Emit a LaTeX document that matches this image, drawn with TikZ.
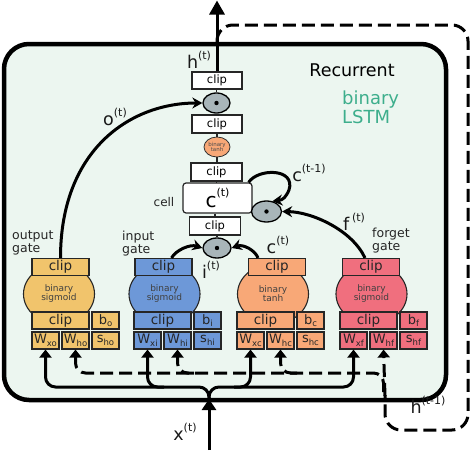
\documentclass[tikz,border=0pt]{standalone}
\usepackage{fontspec}
\setmainfont{DejaVu Sans}
\usetikzlibrary{arrows.meta,shapes.geometric}
\definecolor{bg}{HTML}{ECF6F0}
\definecolor{gold}{HTML}{F1C46C}
\definecolor{blu}{HTML}{6D98D8}
\definecolor{ora}{HTML}{F8A877}
\definecolor{pnk}{HTML}{F06F7E}
\definecolor{tealx}{HTML}{3DAE8C}
\definecolor{dotgray}{HTML}{A8B5B9}
\newcommand\fs[1]{\fontsize{#1}{#1}\selectfont}
\newcommand\supr[1]{\raisebox{0.55em}{\fs{11}#1}}
\newcommand\subr[1]{\raisebox{-0.2em}{\fs{8.5}#1}}
\newcommand\gate[7]{%
 \node[blob, fill=#5] (#1e) at (#2+#4,294) {binary\\#6};
 \node[gbox, fill=#5] (#1t) at (#2+#3,267) {clip};
 \node[gbox, fill=#5] (#1c) at (#2+28.5,320.5) {clip};
 \node[sbox, fill=#5] (#1b) at (#2+73.5,320.5) {b\subr{#7}};
 \node[sbox, fill=#5] (#1wx) at (#2+13.5,340.5) {W\subr{x#7}};
 \node[sbox, fill=#5] (#1wh) at (#2+43.5,340.5) {W\subr{h#7}};
 \node[sbox, fill=#5] (#1s) at (#2+73.5,340.5) {s\subr{h#7}};
}
\tikzset{
 gbox/.style={draw=black!85, line width=1.1pt, minimum width=57pt, minimum height=17pt, inner sep=0pt, font=\fs{13.5}, text=black!85},
 sbox/.style={gbox, minimum width=27pt, font=\fs{13}},
 blob/.style={ellipse, draw=black!85, line width=1.1pt, minimum width=71pt, minimum height=60pt, inner sep=0pt, align=center, font=\fs{9}, text=black!75},
 cbox/.style={draw=black!85, line width=1.2pt, fill=white, minimum width=50pt, minimum height=17pt, inner sep=0pt, font=\fs{11.5}},
 dotc/.style={ellipse, draw=black, line width=1.3pt, fill=dotgray, minimum width=27pt, minimum height=20pt, inner sep=0pt},
 link/.style={line width=1.2pt, draw=black!85},
 flow/.style={line width=3pt, -{Stealth[width=11pt,length=10pt]}},
 inarr/.style={line width=3pt, -{Triangle[width=12pt,length=8pt]}},
 dashln/.style={line width=3pt, dash pattern=on 13pt off 6pt},
 lbl/.style={font=\fs{17.5}, text=black!90, inner sep=0pt},
 glbl/.style={font=\fs{12.5}, align=left, inner sep=0pt, anchor=north west, text=black!85},
}
\begin{document}
\begin{tikzpicture}[x=1pt,y=-1pt]
\useasboundingbox (0,0) rectangle (474,450);
% frame
\node[draw=black, line width=4.5pt, fill=bg, rounded corners=25pt, minimum width=442pt, minimum height=356pt] (frame) at (225,222) {};
% dashed recurrence
\coordinate (hfork) at (217,42);
\draw[dashln, rounded corners=16pt] (hfork) |- (468,25) -- (468,430) -| (385,395);
% gates
\gate{o}{32}{28.5}{27}{gold}{sigmoid}{o}
\gate{i}{134}{29.5}{30.5}{blu}{sigmoid}{i}
\gate{c}{237}{40}{36}{ora}{tanh}{c}
\gate{f}{340}{31}{31.5}{pnk}{sigmoid}{f}
% central column
\node[cbox] (clipA) at (217,80.5) {clip};
\node[dotc] (dot1) at (216.5,103) {};
\node[cbox, minimum height=18pt] (clipB) at (217,124) {clip};
\node[ellipse, draw=black!80, line width=0.8pt, fill=ora, minimum width=26pt, minimum height=20pt, inner sep=0pt, align=center, font=\fs{5.5}, text=black!70] (tanhc) at (217,147) {binary\\[-1pt]tanh};
\node[cbox, minimum height=18pt, minimum width=51pt] (clipC) at (216.5,172) {clip};
\node[draw=black!85, line width=1.2pt, fill=white, rounded corners=3pt, minimum width=69pt, minimum height=30pt, inner sep=0pt, font=\fs{20}] (cell) at (217.5,198) {c\supr{(t)}};
\node[cbox, minimum height=18pt, minimum width=51pt] (clipD) at (215,226) {clip};
\node[dotc, minimum width=28pt] (dot3) at (217,248) {};
\node[dotc, minimum width=30pt, minimum height=21pt] (dot2) at (266.5,211.5) {};
\foreach \d in {dot1,dot2,dot3} \fill (\d.center) circle[radius=2.2pt];
% thin links
\draw[link] (dot3.north) -- (dot3.north |- clipD.south);
\draw[link] (cell.south -| clipD.north) -- (clipD.north);
\draw[link] (clipC.south) -- (clipC.south |- cell.north);
\draw[link] (tanhc.south) -- (tanhc.south |- clipC.north);
\draw[link] (clipB.south) -- (tanhc.north);
\draw[link] (dot1.south) -- (dot1.south |- clipB.north);
\draw[link] (dot1.north) -- (dot1.north |- clipA.south);
% output arrow
\coordinate (hout) at (217,0.5);
\draw[line width=3pt, -{Triangle[width=15pt,length=14pt]}] (clipA.north) -- (hout);
% gate arrows
\draw[flow] (ot.north) .. controls (60.5,150) and (130,103) .. (dot1.west);
\draw[flow] ([xshift=8pt]it.north) .. controls (176,250) and (190,244) .. (dot3.west);
\draw[flow] ([xshift=-19pt]ct.north) .. controls (255,250) and (243,244) .. (dot3.east);
\draw[flow] ([xshift=-6pt]ft.north) .. controls (352,230) and (312,212) .. (dot2.east);
\draw[flow] ([xshift=-4pt]cell.north east) .. controls (258,168) and (296,168) .. (289,190) .. controls (286,197) and (283,200) .. (dot2.60);
% recurrent inputs
\draw[dashln, -{Triangle[width=12pt,length=8pt]}] (385,396) -- (fwh.south);
\draw[dashln, rounded corners=10pt, -{Triangle[width=12pt,length=8pt]}] (fwh.south |- 0,392) |- (owh.south |- 0,373) -- (owh.south);
\coordinate (hbi) at (194,373);
\coordinate (hbc) at (297,373);
\draw[dashln, rounded corners=10pt, -{Triangle[width=12pt,length=8pt]}] (hbi) -| (iwh.south);
\draw[dashln, rounded corners=10pt, -{Triangle[width=12pt,length=8pt]}] (hbc) -| (cwh.south);
% x inputs
\coordinate (xin) at (209,450);
\coordinate (xj) at (209,399);
\draw[inarr, rounded corners=10pt] (xj) |- (owx.south |- 0,387) -- (owx.south);
\draw[inarr, rounded corners=10pt] (xj) |- (fwx.south |- 0,387) -- (fwx.south);
\coordinate (xbi) at (164,387);
\coordinate (xbc) at (234,387);
\draw[inarr, rounded corners=10pt] (xbi) -| (iwx.south);
\draw[inarr, rounded corners=10pt] (xbc) -| (cwx.south);
\draw[line width=3pt, -{Triangle[width=14pt,length=11pt]}] (xin) -- (xj);
% labels
\node[lbl] (lh) at (199,60) {h\supr{(t)}};
\node[font=\fs{17.5}, inner sep=0pt] (lrec) at (352,70) {Recurrent};
\node[font=\fs{18}, text=tealx, align=left, inner sep=0pt, anchor=west] (lbl2) at (342,107) {binary\\[1pt]LSTM};
\node[lbl] (lo) at (115,117) {o\supr{(t)}};
\node[font=\fs{12}, inner sep=0pt, text=black!85] (lcell) at (164,202) {cell};
\node[lbl] (lcp) at (309,173) {c\supr{(t-1)}};
\node[lbl] (lf) at (354,222) {f\,\supr{(t)}};
\node[lbl] (li) at (211,270) {i\supr{(t)}};
\node[lbl] (lc) at (278,245) {c\supr{(t)}};
\node[glbl] (log) at (12,231) {output\\gate};
\node[glbl] (lig) at (122,231) {input\\gate};
\node[glbl] (lfg) at (372,228) {forget\\gate};
\node[lbl] (lx) at (185,432) {x\supr{(t)}};
\node[lbl] (lhp) at (428,405) {h\supr{(t-1)}};
\end{tikzpicture}
\end{document}
